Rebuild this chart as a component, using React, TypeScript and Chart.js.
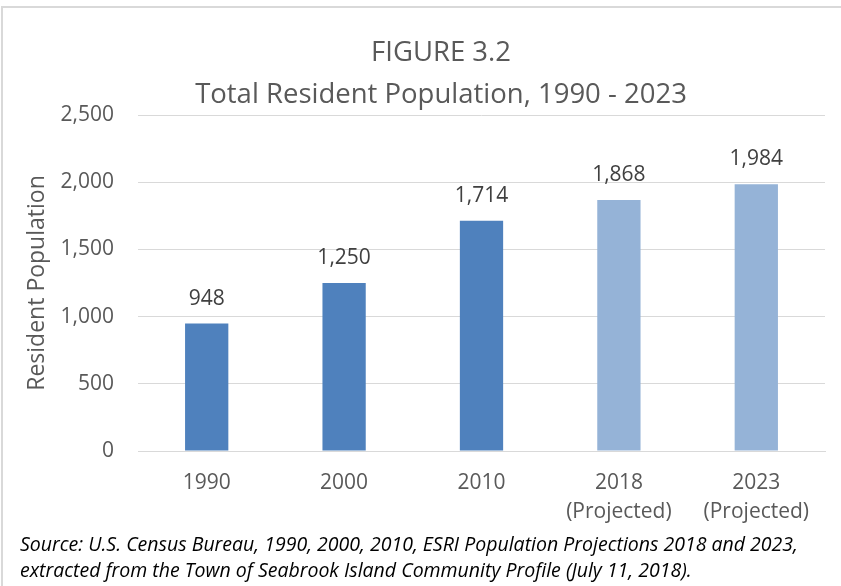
import React, { useEffect, useRef } from "react";
import { Chart, registerables } from "chart.js";

Chart.register(...registerables);

const categories: (string | string[])[] = ["1990", "2000", "2010", ["2018", "(Projected)"], ["2023", "(Projected)"]];
const populationValues = [948, 1250, 1714, 1868, 1984];
const barColors = ["#4F81BD", "#4F81BD", "#4F81BD", "#95B3D7", "#95B3D7"];
const titleLines = ["FIGURE 3.2", "Total Resident Population, 1990 - 2023"];
const yAxisTitle = "Resident Population";
const yMin = 0;
const yMax = 2500;
const yStep = 500;
const sourceLines = [
  "Source: U.S. Census Bureau, 1990, 2000, 2010, ESRI Population Projections 2018 and 2023,",
  "extracted from the Town of Seabrook Island Community Profile (July 11, 2018).",
];

const FONT = "'Open Sans', 'DejaVu Sans', sans-serif";

const fmt = (v: number) => v.toLocaleString("en-US");

const dataLabelPlugin = {
  id: "dataLabels",
  afterDatasetsDraw(chart: any) {
    const ctx = chart.ctx;
    const meta = chart.getDatasetMeta(0);
    ctx.save();
    ctx.font = `21px ${FONT}`;
    ctx.fillStyle = "#404040";
    ctx.textAlign = "center";
    ctx.textBaseline = "middle";
    meta.data.forEach((bar: any, i: number) => {
      const v = chart.data.datasets[0].data[i] as number;
      ctx.fillText(fmt(v), bar.x, bar.y - 25);
    });
    ctx.restore();
  },
};

const titlePlugin = {
  id: "centeredTitle",
  afterDraw(chart: any) {
    const ctx = chart.ctx;
    ctx.save();
    ctx.font = `27.5px ${FONT}`;
    ctx.fillStyle = "#595959";
    ctx.textAlign = "center";
    ctx.textBaseline = "middle";
    titleLines.forEach((line, i) => {
      ctx.fillText(line, 441, 53 + i * 42);
    });
    ctx.restore();
  },
};

export default function App() {
  const canvasRef = useRef<HTMLCanvasElement | null>(null);

  useEffect(() => {
    if (!canvasRef.current) return;
    const chart = new Chart(canvasRef.current, {
      type: "bar",
      data: {
        labels: categories,
        datasets: [
          {
            data: populationValues,
            backgroundColor: barColors,
            borderWidth: 0,
            barPercentage: 0.315,
            categoryPercentage: 1,
          },
        ],
      },
      options: {
        animation: false,
        responsive: false,
        maintainAspectRatio: false,
        devicePixelRatio: 1,
        layout: { padding: { left: 12, right: 57, top: 115, bottom: 4 } },
        plugins: {
          legend: { display: false },
          tooltip: { enabled: false },
          title: { display: false },
        },
        scales: {
          x: {
            grid: { display: false },
            border: { display: true, color: "#d9d9d9", width: 1 },
            ticks: {
              color: "#595959",
              font: { family: FONT, size: 21, lineHeight: 1.38 },
              padding: 10,
              maxRotation: 0,
              autoSkip: false,
            },
            afterFit: (scale: any) => {
              scale.height = 80;
            },
          },
          y: {
            min: yMin,
            max: yMax,
            grid: { color: "#d9d9d9", lineWidth: 1, drawTicks: false },
            border: { display: false },
            ticks: {
              stepSize: yStep,
              color: "#595959",
              font: { family: FONT, size: 21 },
              padding: 24,
              callback: (v: any) => fmt(Number(v)),
            },
            title: {
              display: true,
              text: yAxisTitle,
              color: "#595959",
              font: { family: FONT, size: 23, weight: "normal", lineHeight: 1.2 },
              padding: { top: 12, bottom: 0 },
            },
            afterFit: (scale: any) => {
              scale.width = 126;
            },
          },
        },
      },
      plugins: [dataLabelPlugin, titlePlugin],
    });
    return () => chart.destroy();
  }, []);

  return (
    <div
      style={{
        position: "absolute",
        left: 0,
        top: 0,
        width: 841,
        height: 586,
        overflow: "hidden",
        background: "#ffffff",
      }}
    >
      <div
        style={{
          position: "absolute",
          left: 1,
          top: 6,
          width: 900,
          height: 700,
          border: "2px solid #d9d9d9",
          boxSizing: "border-box",
        }}
      />
      <canvas
        ref={canvasRef}
        width={882}
        height={535}
        style={{ position: "absolute", left: 0, top: 0, width: 882, height: 535 }}
      />
      <div
        style={{
          position: "absolute",
          left: 20,
          top: 531,
          fontFamily: FONT,
          fontStyle: "italic",
          fontSize: 19.5,
          lineHeight: "26px",
          color: "#000000",
          whiteSpace: "nowrap",
        }}
      >
        {sourceLines.map((l, i) => (
          <div key={i}>{l}</div>
        ))}
      </div>
    </div>
  );
}
